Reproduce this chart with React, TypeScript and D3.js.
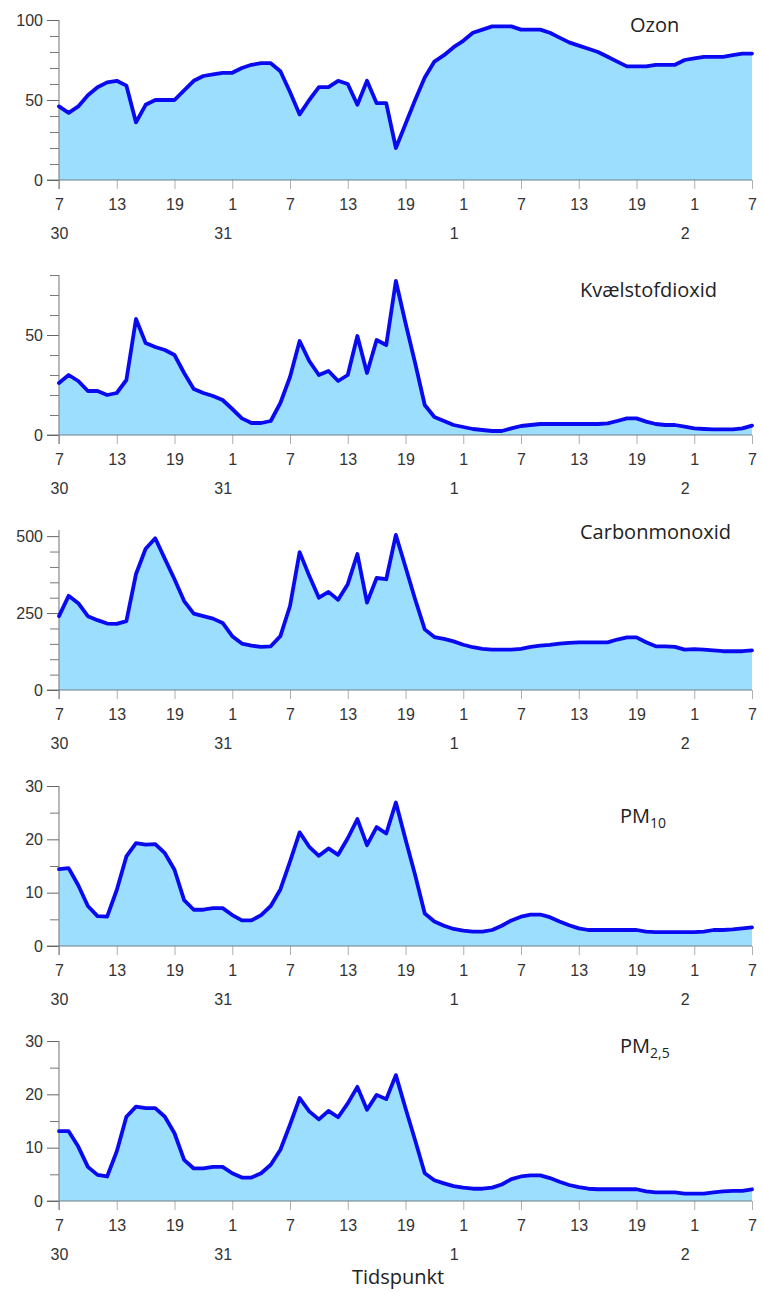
import React, { useEffect, useRef } from 'react';
import * as d3 from 'd3';

// hourly readings, starting 30th at 07:00 and ending 2nd at 07:00 (73 points)
const ozon = [
  46, 42, 46, 53, 58, 61, 62, 59, 36, 47, 50, 50, 50, 56, 62, 65, 66, 67, 67, 70, 72, 73, 73, 68,
  55, 41, 50, 58, 58, 62, 60, 47, 62, 48, 48, 20, 35, 50, 64, 74, 78, 83, 87, 92, 94, 96, 96, 96,
  94, 94, 94, 92, 89, 86, 84, 82, 80, 77, 74, 71, 71, 71, 72, 72, 72, 75, 76, 77, 77, 77, 78, 79, 79
];
const no2 = [
  26, 30, 27, 22, 22, 20, 21, 27.5, 58, 46, 44, 42.5, 40, 31, 23, 21, 19.5, 17.5, 13, 8.3, 6, 6, 7, 16,
  29, 47, 37, 30, 32, 27, 30, 49.5, 31, 47.5, 45, 77, 56, 36, 15, 9, 7, 5, 4, 3, 2.5, 2, 2, 3.3,
  4.5, 5, 5.5, 5.5, 5.5, 5.5, 5.5, 5.5, 5.5, 5.8, 7, 8.3, 8.3, 6.7, 5.5, 5, 5, 4.2, 3.3, 3, 2.8, 2.8, 2.8, 3.3, 4.7
];
const co = [
  240, 306, 282, 240, 227, 216, 215, 224, 377, 459, 493, 426, 360, 289, 248, 240, 232, 218, 175, 151, 144, 140, 142, 175,
  273, 448, 371, 300, 319, 293, 344, 442, 284, 364, 360, 504, 400, 295, 197, 172, 166, 158, 147, 139, 134, 131, 131, 131,
  134, 140, 144, 147, 151, 153, 155, 155, 155, 155, 164, 171, 171, 155, 142, 142, 140, 131, 133, 131, 129, 126, 126, 126, 129
];
const pm10 = [
  14.4, 14.6, 11.4, 7.5, 5.6, 5.5, 10.5, 16.8, 19.3, 19, 19.1, 17.4, 14.3, 8.6, 6.8, 6.8, 7.1, 7.1, 5.8, 4.8, 4.8, 5.8, 7.5, 10.6,
  15.8, 21.3, 18.6, 16.9, 18.3, 17.1, 20.2, 23.8, 18.9, 22.3, 21.1, 26.9, 20, 13.3, 6.1, 4.6, 3.8, 3.2, 2.9, 2.7, 2.7, 3, 3.8, 4.8,
  5.5, 5.9, 5.9, 5.4, 4.6, 3.9, 3.3, 3, 3, 3, 3, 3, 3, 2.7, 2.6, 2.6, 2.6, 2.6, 2.6, 2.7, 3, 3, 3.1, 3.3, 3.5
];
const pm25 = [
  13.1, 13.1, 10.2, 6.4, 4.9, 4.6, 9.3, 15.8, 17.7, 17.4, 17.4, 15.8, 12.7, 7.7, 6.1, 6.1, 6.4, 6.4, 5.2, 4.4, 4.4, 5.2, 6.8, 9.6,
  14.3, 19.3, 16.8, 15.3, 16.9, 15.7, 18.3, 21.4, 17.1, 19.9, 19.1, 23.6, 17.4, 11.4, 5.2, 3.9, 3.3, 2.8, 2.5, 2.3, 2.3, 2.5, 3.1, 4.1,
  4.6, 4.8, 4.8, 4.3, 3.6, 3, 2.6, 2.3, 2.2, 2.2, 2.2, 2.2, 2.2, 1.8, 1.6, 1.6, 1.6, 1.4, 1.4, 1.4, 1.6, 1.8, 1.9, 1.9, 2.2
];

const hourTicks = [0, 6, 12, 18, 24, 30, 36, 42, 48, 54, 60, 66, 72];
const hourLabels = ['7', '13', '19', '1', '7', '13', '19', '1', '7', '13', '19', '1', '7'];
const dayTicks = [0, 17, 41, 65];
const dayLabels = ['30', '31', '1', '2'];

// panel layout
const panels = [
  { data: ozon, title: 'Ozon', sub: '', max: 100, major: [0, 50, 100], minor: 10, y0: 180, tx: 630, ty: 32 },
  { data: no2, title: 'Kvælstofdioxid', sub: '', max: 80, major: [0, 50], minor: 10, y0: 435, tx: 580, ty: 297 },
  { data: co, title: 'Carbonmonoxid', sub: '', max: 520, major: [0, 250, 500], minor: 50, y0: 690, tx: 580, ty: 539 },
  { data: pm10, title: 'PM', sub: '10', max: 30, major: [0, 10, 20, 30], minor: 5, y0: 946, tx: 620, ty: 823 },
  { data: pm25, title: 'PM', sub: '2,5', max: 30, major: [0, 10, 20, 30], minor: 5, y0: 1201, tx: 620, ty: 1053 },
];

const W = 763;
const H = 1292;
const left = 59;
const right = 752;
const plotH = 160;
const tickFont = '"Liberation Sans", Arial, sans-serif';
const titleFont = '"Open Sans", sans-serif';

export default function App() {
  const ref = useRef<SVGSVGElement>(null);

  useEffect(() => {
    const svg = d3.select(ref.current);
    svg.selectAll('*').remove();

    const x = d3.scaleLinear().domain([0, 72]).range([left, right]);

    panels.forEach((p) => {
      const y = d3.scaleLinear().domain([0, p.max]).range([p.y0, p.y0 - plotH]);
      const g = svg.append('g');

      const area = d3.area<number>()
        .x((_, i) => x(i))
        .y0(y(0))
        .y1((d) => y(d));
      const line = d3.line<number>()
        .x((_, i) => x(i))
        .y((d) => y(d));

      // x axis ticks (light gray, below)
      const xAxis = d3.axisBottom(x)
        .tickValues(hourTicks)
        .tickFormat((_, i) => hourLabels[i])
        .tickSize(9)
        .tickPadding(10);
      const xg = g.append('g').attr('transform', `translate(0,${p.y0})`).call(xAxis);
      xg.select('.domain').remove();
      xg.selectAll('line').attr('stroke', '#b0b0b0');
      xg.selectAll('text')
        .attr('fill', '#333')
        .style('font-family', tickFont)
        .style('font-size', '16px');

      // day labels
      const dAxis = d3.axisBottom(x)
        .tickValues(dayTicks)
        .tickFormat((_, i) => dayLabels[i])
        .tickSize(0)
        .tickPadding(48);
      const dg = g.append('g').attr('transform', `translate(0,${p.y0})`).call(dAxis);
      dg.select('.domain').remove();
      dg.selectAll('text')
        .attr('fill', '#333')
        .style('font-family', tickFont)
        .style('font-size', '16px');

      g.append('path').datum(p.data).attr('d', area).attr('fill', '#9CDEFD');

      // baseline
      g.append('line')
        .attr('x1', left - 12).attr('x2', right)
        .attr('y1', y(0)).attr('y2', y(0))
        .attr('stroke', '#6f7f86').attr('stroke-width', 1.2);

      // y axis: minor ticks
      const minorVals = d3.range(0, p.max + 0.001, p.minor).filter((v) => !p.major.includes(v));
      const yMinor = d3.axisLeft(y).tickValues(minorVals).tickSize(9).tickFormat(() => '');
      const ymg = g.append('g').attr('transform', `translate(${left},0)`).call(yMinor);
      ymg.select('.domain').remove();
      ymg.selectAll('line').attr('stroke', '#777');

      const yMajor = d3.axisLeft(y).tickValues(p.major).tickSize(12).tickPadding(4);
      const yg = g.append('g').attr('transform', `translate(${left},0)`).call(yMajor);
      yg.select('.domain').remove();
      yg.selectAll('line').attr('stroke', '#666');
      yg.selectAll('text')
        .attr('fill', '#333')
        .style('font-family', tickFont)
        .style('font-size', '16px');

      g.append('line')
        .attr('x1', left).attr('x2', left)
        .attr('y1', y(p.max)).attr('y2', y(0) + 9)
        .attr('stroke', '#888').attr('stroke-width', 1.2);

      g.append('path').datum(p.data).attr('d', line)
        .attr('fill', 'none')
        .attr('stroke', '#0A0AF0')
        .attr('stroke-width', 3.8)
        .attr('stroke-linejoin', 'round')
        .attr('stroke-linecap', 'round');

      const t = g.append('text')
        .attr('x', p.tx).attr('y', p.ty)
        .attr('fill', '#222')
        .style('font-family', titleFont)
        .style('font-size', '20px')
        .text(p.title);
      if (p.sub) {
        t.append('tspan').attr('dy', 5).style('font-size', '14px').text(p.sub);
      }
    });

    svg.append('text')
      .attr('x', 352).attr('y', 1284)
      .attr('fill', '#222')
      .style('font-family', titleFont)
      .style('font-size', '20px')
      .text('Tidspunkt');
  }, []);

  return (
    <svg
      ref={ref}
      width={W}
      height={H}
      style={{ position: 'absolute', left: 0, top: 0, background: '#fff' }}
    />
  );
}
